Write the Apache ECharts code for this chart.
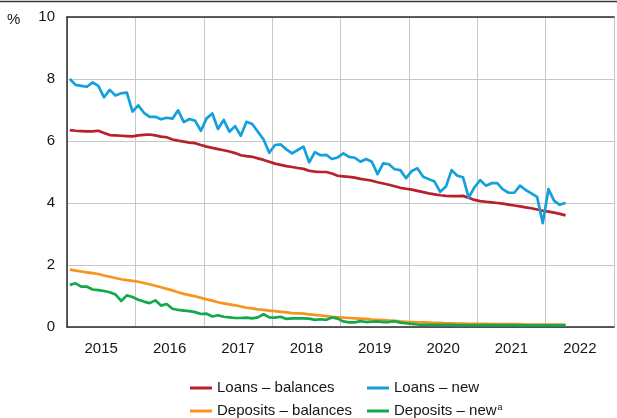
<!DOCTYPE html>
<html>
<head>
<meta charset="utf-8">
<script src="https://cdn.jsdelivr.net/npm/echarts@6/dist/echarts.min.js"></script>
<style>
  html, body { margin: 0; padding: 0; background: #ffffff; }
  #chart { width: 617px; height: 418px; }
</style>
</head>
<body>
<div id="chart"></div>
<script>
// Monthly interest rates, per cent, from January 2015
const firstYear = 2015;

const loansBalances = [
  6.35, 6.33, 6.32, 6.31, 6.31, 6.33, 6.26, 6.19, 6.18, 6.17, 6.16, 6.15,
  6.18, 6.20, 6.21, 6.18, 6.14, 6.12, 6.05, 6.01, 5.98, 5.95, 5.93, 5.87,
  5.82, 5.78, 5.74, 5.70, 5.66, 5.61, 5.54, 5.51, 5.49, 5.44, 5.39, 5.33,
  5.27, 5.23, 5.19, 5.16, 5.13, 5.10, 5.04, 5.01, 5.00, 5.00, 4.95, 4.88,
  4.86, 4.84, 4.82, 4.78, 4.75, 4.72, 4.67, 4.63, 4.59, 4.54, 4.49, 4.46,
  4.43, 4.39, 4.35, 4.31, 4.28, 4.25, 4.23, 4.22, 4.22, 4.23, 4.17, 4.10,
  4.06, 4.04, 4.02, 4.00, 3.98, 3.95, 3.92, 3.89, 3.86, 3.83, 3.79, 3.75,
  3.72, 3.69, 3.65, 3.60
];

const loansNew = [
  8.00, 7.81, 7.78, 7.75, 7.89, 7.78, 7.41, 7.65, 7.47, 7.54, 7.56, 6.95,
  7.15, 6.91, 6.78, 6.78, 6.70, 6.75, 6.72, 6.99, 6.61, 6.71, 6.65, 6.33,
  6.73, 6.89, 6.39, 6.68, 6.30, 6.48, 6.17, 6.62, 6.55, 6.30, 6.05, 5.62,
  5.87, 5.89, 5.73, 5.60, 5.71, 5.82, 5.31, 5.64, 5.54, 5.55, 5.42, 5.47,
  5.60, 5.49, 5.46, 5.33, 5.42, 5.33, 4.93, 5.28, 5.25, 5.09, 5.06, 4.80,
  5.03, 5.12, 4.85, 4.77, 4.69, 4.36, 4.53, 5.06, 4.88, 4.83, 4.18, 4.50,
  4.74, 4.56, 4.64, 4.64, 4.44, 4.33, 4.33, 4.56, 4.42, 4.31, 4.20, 3.35,
  4.45, 4.07, 3.94, 4.01
];

const depositsBalances = [
  1.85, 1.82, 1.79, 1.76, 1.74, 1.71, 1.66, 1.62, 1.58, 1.54, 1.51, 1.49,
  1.46, 1.42, 1.38, 1.33, 1.28, 1.23, 1.18, 1.12, 1.07, 1.03, 0.99, 0.94,
  0.89, 0.85, 0.80, 0.76, 0.73, 0.70, 0.66, 0.62, 0.60, 0.57, 0.55, 0.53,
  0.51, 0.49, 0.47, 0.45, 0.44, 0.43, 0.41, 0.39, 0.37, 0.35, 0.33, 0.32,
  0.30, 0.29, 0.28, 0.27, 0.26, 0.24, 0.23, 0.22, 0.21, 0.20, 0.18, 0.17,
  0.16, 0.15, 0.15, 0.14, 0.13, 0.13, 0.12, 0.12, 0.11, 0.11, 0.10, 0.10,
  0.10, 0.10, 0.09, 0.09, 0.09, 0.09, 0.09, 0.09, 0.08, 0.08, 0.08, 0.08,
  0.08, 0.08, 0.08, 0.08
];

const depositsNew = [
  1.36, 1.41, 1.30, 1.30, 1.21, 1.19, 1.16, 1.12, 1.05, 0.84, 1.02, 0.97,
  0.88, 0.82, 0.77, 0.86, 0.69, 0.74, 0.59, 0.55, 0.53, 0.51, 0.48, 0.42,
  0.43, 0.34, 0.38, 0.33, 0.31, 0.29, 0.29, 0.30, 0.28, 0.31, 0.41, 0.31,
  0.30, 0.33, 0.26, 0.28, 0.28, 0.28, 0.27, 0.23, 0.25, 0.23, 0.31, 0.27,
  0.18, 0.15, 0.15, 0.19, 0.16, 0.17, 0.18, 0.16, 0.16, 0.19, 0.14, 0.12,
  0.10, 0.08, 0.07, 0.07, 0.07, 0.07, 0.07, 0.07, 0.06, 0.06, 0.06, 0.06,
  0.06, 0.06, 0.06, 0.06, 0.06, 0.06, 0.06, 0.05, 0.05, 0.05, 0.05, 0.05,
  0.05, 0.05, 0.05, 0.05
];

const yearLabels = ['2015', '2016', '2017', '2018', '2019', '2020', '2021', '2022'];
const yTicks = { min: 0, max: 10, step: 2 };

const FONT = '"Liberation Sans", Arial, sans-serif';
const FS = 15;
const TEXT = '#161616';
const AXIS = '#2b2b2b';
const GRID = '#c6c6c6';

// Mid-month position of each observation, in decimal years
const monthPos = loansBalances.map((_, i) => firstYear + (i + 0.5) / 12);
const pairs = values => values.map((v, i) => [monthPos[i], v]);

function lineSeries(name, values, color) {
  return {
    name, type: 'line', data: pairs(values),
    showSymbol: false, symbol: 'none', animation: false,
    lineStyle: { color, width: 2.7, join: 'round' },
    itemStyle: { color }
  };
}

const xMin = firstYear;
const xMax = firstYear + yearLabels.length;

const legendBase = {
  orient: 'vertical', top: 380, height: 50, padding: 0,
  icon: 'rect', itemWidth: 22, itemHeight: 3, itemGap: 7,
  textStyle: { fontSize: FS, color: TEXT, fontFamily: FONT, lineHeight: 16 }
};

const chart = echarts.init(document.getElementById('chart'), null, { renderer: 'canvas' });
chart.setOption({
  animation: false,
  backgroundColor: '#ffffff',
  textStyle: { fontFamily: FONT },
  grid: { left: 67, right: -1, top: 17, bottom: 91, containLabel: false },
  xAxis: [
    {
      // year labels sit midway between the year boundaries
      type: 'value', min: xMin, max: xMax, interval: 0.5,
      axisLine: { show: true, lineStyle: { color: AXIS, width: 1.5 } },
      axisTick: { show: false },
      splitLine: { show: false },
      axisLabel: {
        show: true, margin: 14, fontSize: FS, color: TEXT, fontFamily: FONT,
        showMinLabel: true, showMaxLabel: true,
        formatter: v => {
          const y = Math.floor(v + 1e-6);
          return Math.abs(v - y - 0.5) < 1e-6 ? (yearLabels[y - firstYear] || '') : '';
        }
      }
    },
    {
      // year boundaries and the top frame
      type: 'value', position: 'top', min: xMin, max: xMax, interval: 1,
      axisLine: { show: true, lineStyle: { color: AXIS, width: 1.5 } },
      axisTick: { show: false },
      axisLabel: { show: false },
      splitLine: { show: true, lineStyle: { color: GRID, width: 1 } }
    }
  ],
  yAxis: {
    type: 'value', min: yTicks.min, max: yTicks.max, interval: yTicks.step,
    axisLine: { show: true, lineStyle: { color: AXIS, width: 1.5 } },
    axisTick: { show: false },
    axisLabel: { margin: 12, fontSize: FS, color: TEXT, fontFamily: FONT },
    splitLine: { show: true, lineStyle: { color: GRID, width: 1 } }
  },
  legend: [
    Object.assign({}, legendBase, {
      data: ['Loans – balances', 'Deposits – balances'],
      left: 190
    }),
    Object.assign({}, legendBase, {
      data: ['Loans – new', 'Deposits – new'],
      left: 367,
      formatter: name => name === 'Deposits – new' ? name + '{sup|a}' : name,
      textStyle: {
        fontSize: FS, color: TEXT, fontFamily: FONT, lineHeight: 16,
        rich: { sup: { fontSize: 9, fontFamily: FONT, color: TEXT, verticalAlign: 'top', lineHeight: 9, padding: [0, 0, 7, 1] } }
      }
    })
  ],
  graphic: [
    { type: 'line', shape: { x1: 0, y1: 1.5, x2: 617, y2: 1.5 }, style: { stroke: '#3a3a3a', lineWidth: 1.5 }, silent: true },
    { type: 'text', left: 7, top: 12, style: { text: '%', fontSize: FS, fontFamily: FONT, fill: TEXT }, silent: true }
  ],
  series: [
    lineSeries('Loans – balances', loansBalances, '#b8202b'),
    lineSeries('Deposits – balances', depositsBalances, '#f7941d'),
    lineSeries('Loans – new', loansNew, '#14a0da'),
    lineSeries('Deposits – new', depositsNew, '#12a84c')
  ]
});
</script>
</body>
</html>
